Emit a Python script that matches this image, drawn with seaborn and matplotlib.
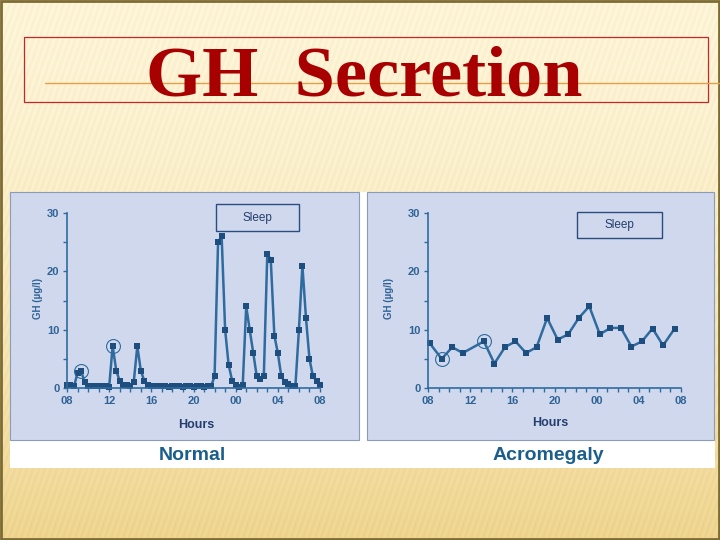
import numpy as np
import matplotlib
matplotlib.use("Agg")
import matplotlib.pyplot as plt
from matplotlib.patches import Rectangle
from matplotlib.lines import Line2D
from matplotlib.ticker import MultipleLocator
import seaborn as sns

sns.set_style("ticks")
plt.rcParams["font.family"] = ["Liberation Sans", "DejaVu Sans"]

# hours after 08:00, GH in ug/l
normal_hours = [0, 0.33, 0.67, 1, 1.33, 1.67, 2, 2.33, 2.67, 3, 3.33, 3.67, 4,
                4.33, 4.67, 5, 5.33, 5.67, 6, 6.33, 6.67, 7, 7.33, 7.67, 8,
                8.33, 8.67, 9, 9.33, 9.67, 10, 10.33, 10.67, 11, 11.33, 11.67,
                12, 12.33, 12.67, 13, 13.33, 13.67,
                14, 14.33, 14.67, 15, 15.33, 15.67, 16, 16.33, 16.67, 17, 17.33,
                17.67, 18, 18.33, 18.67, 19, 19.33, 19.67, 20, 20.33, 20.67, 21,
                21.33, 21.67, 22, 22.33, 22.67, 23, 23.33, 23.67, 24]
normal_gh = [0.6, 0.5, 0.3, 2.6, 3.0, 1.0, 0.4, 0.3, 0.3, 0.3, 0.4, 0.3, 0.2,
             7.2, 3.0, 1.2, 0.5, 0.5, 0.3, 1.0, 7.2, 3.0, 1.2, 0.5, 0.4,
             0.4, 0.3, 0.3, 0.3, 0.2, 0.3, 0.4, 0.3, 0.2, 0.4, 0.3,
             0.2, 0.3, 0.3, 0.2, 0.4, 0.3,
             2.0, 25, 26, 10, 4, 1.2, 0.6, 0.2, 0.5, 14, 10,
             6, 2.0, 1.6, 2.0, 23, 22, 9, 6, 2.0, 1.0, 0.7,
             0.4, 0.4, 10, 21, 12, 5, 2.0, 1.2, 0.5]
normal_circled = [4, 13]

acro_hours = [0.15, 1.3, 2.3, 3.3, 5.3, 6.3, 7.3, 8.3, 9.3, 10.3, 11.3, 12.3,
              13.3, 14.3, 15.3, 16.3, 17.3, 18.3, 19.3, 20.3, 21.3, 22.3, 23.4]
acro_gh = [7.7, 5.0, 7.0, 6.0, 8.0, 4.2, 7.0, 8.0, 6.0, 7.0, 12.0, 8.3,
           9.2, 12.0, 14.0, 9.2, 10.3, 10.3, 7.1, 8.0, 10.2, 7.3, 10.2]
acro_circled = [1, 4]

hour_ticks = [0, 4, 8, 12, 16, 20, 24]
hour_labels = ["08", "12", "16", "20", "00", "04", "08"]
gh_ticks = [0, 10, 20, 30]

# sleep boxes (hours, GH) for each panel
normal_sleep = (14.1, 22.0, 26.9, 31.5)
acro_sleep = (14.1, 22.2, 25.7, 30.2)

line_c = "#2F6B9E"
mark_c = "#1E4E7E"
tick_c = "#2F6395"
navy = "#243F6E"
panel_c = "#D0D8EE"

fig = plt.figure(figsize=(7.2, 5.4), dpi=100)

# slide background, drawn in pixel coords
bg = fig.add_axes([0, 0, 1, 1])
bg.set_axis_off()
yy, xx = np.mgrid[0:540, 0:720]
t = (yy / 540.0)[..., None]
top = np.array([253, 244, 214]) / 255
bot = np.array([238, 212, 142]) / 255
img = top + (bot - top) * t ** 1.6
stripes = 0.012 * np.sin((xx + yy * 0.35) * 2 * np.pi / 6)
img = np.clip(img + stripes[..., None], 0, 1)
bg.imshow(img, extent=[0, 720, 540, 0], aspect="auto")
bg.set_xlim(0, 720)
bg.set_ylim(540, 0)
bg.add_patch(Rectangle((1, 1), 718, 538, fill=False, ec="#7d6b34", lw=2))

bg.add_line(Line2D([45, 720], [83, 83], color="#E3A04A", lw=1))
bg.add_patch(Rectangle((24, 37), 684, 65, fill=False, ec="#C0282A", lw=0.9))
bg.text(364, 95, "GH  Secretion", family=["Liberation Serif"], fontsize=52,
        fontweight="bold", color="#A80000", ha="center", va="baseline")

bg.add_patch(Rectangle((10, 192), 705, 276, fc="white", ec="none"))
bg.add_patch(Rectangle((10, 192), 349, 248, fc=panel_c, ec="#8C9BB8", lw=0.8))
bg.add_patch(Rectangle((367, 192), 347, 248, fc=panel_c, ec="#8C9BB8", lw=0.8))
bg.text(192.5, 460, "Normal", fontsize=14, fontweight="bold", color="#1B5E8C",
        ha="center", va="baseline")
bg.text(548.5, 460, "Acromegaly", fontsize=14, fontweight="bold", color="#1B5E8C",
        ha="center", va="baseline")

ax1 = fig.add_axes([67 / 720, 1 - 388 / 540, 253 / 720, 175 / 540])
ax2 = fig.add_axes([428 / 720, 1 - 388 / 540, 253 / 720, 175 / 540])

panels = [
    (ax1, normal_hours, normal_gh, normal_circled, normal_sleep, -0.095, (0.51, -0.177)),
    (ax2, acro_hours, acro_gh, acro_circled, acro_sleep, -0.134, (0.482, -0.166)),
]

for ax, hrs, gh, circ, sleep, ylab_x, xlab_xy in panels:
    ax.set_facecolor("none")
    sns.lineplot(x=hrs, y=gh, ax=ax, estimator=None, color=line_c, lw=1.8,
                 marker="s", markersize=4, markeredgewidth=0,
                 markerfacecolor=mark_c, clip_on=False)
    for i in circ:
        ax.plot(hrs[i], gh[i], marker="o", ms=10, mfc="none", mec=line_c,
                mew=0.8, clip_on=False)

    ax.set_xlim(0, 24)
    ax.set_ylim(0, 30)
    ax.set_xticks(hour_ticks, hour_labels)
    ax.set_yticks(gh_ticks)
    ax.xaxis.set_minor_locator(MultipleLocator(1))
    ax.yaxis.set_minor_locator(MultipleLocator(5))
    sns.despine(ax=ax)
    for sp in ["left", "bottom"]:
        ax.spines[sp].set_color(line_c)
        ax.spines[sp].set_linewidth(1.2)
    ax.tick_params(which="both", direction="out", length=3, width=1,
                   color=line_c, labelsize=8, labelcolor=tick_c, pad=2.5)
    for lbl in ax.get_xticklabels() + ax.get_yticklabels():
        lbl.set_fontweight("bold")

    ax.set_ylabel("GH (\u00b5g/l)", fontsize=7, fontweight="bold", color=tick_c)
    ax.yaxis.set_label_coords(ylab_x, 0.51)
    ax.set_xlabel("Hours", fontsize=9, fontweight="bold", color=navy)
    ax.xaxis.set_label_coords(*xlab_xy)

    x0, x1, y0, y1 = sleep
    ax.add_patch(Rectangle((x0, y0), x1 - x0, y1 - y0, fc=panel_c, ec="#2B4C7E",
                           lw=1, clip_on=False))
    ax.text((x0 + x1) / 2, (y0 + y1) / 2, "Sleep", fontsize=8.5, color=navy,
            ha="center", va="center")

fig.savefig("out.png", dpi=100)
